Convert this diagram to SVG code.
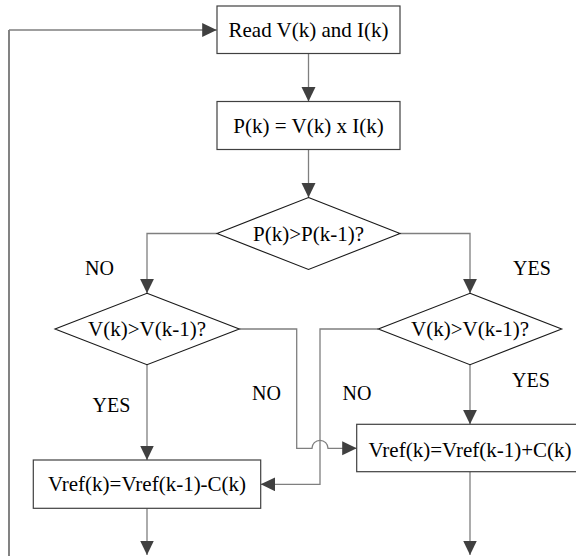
<svg xmlns="http://www.w3.org/2000/svg" width="576" height="556" viewBox="0 0 576 556">
<style>
.box{fill:#fff;stroke:#404040;stroke-width:1.2}
.dia{fill:#fff;stroke:#1a1a1a;stroke-width:1.1}
.t{font-size:21px;text-anchor:middle;fill:#000}
.lbl{font-size:20px;fill:#000}
.c{fill:none;stroke:#7f7f7f;stroke-width:1.3}
.cd{fill:none;stroke:#404040;stroke-width:1.3}
.ca{marker-end:url(#ah)}
</style>
<defs>
<marker id="ah" markerUnits="userSpaceOnUse" markerWidth="15" markerHeight="15" viewBox="0 0 15 15" refX="14.5" refY="7" orient="auto">
<path d="M0,0 L14.5,7 L0,14 z" fill="#404040"/>
</marker>
</defs>
<g id="connectors">
<path class="cd" d="M9,556 V30"/>
<path class="c ca" d="M9,30 H216.7"/>
<path class="c ca" d="M308.5,53.5 V101.5"/>
<path class="c ca" d="M308.5,149.5 V197.5"/>
<path class="c ca" d="M217,233.5 H147 V293.3"/>
<path class="c ca" d="M400,233.5 H470 V293.3"/>
<path class="c ca" d="M147,364.7 V460"/>
<path class="c ca" d="M470,364.7 V424.3"/>
<path class="c ca" d="M239.3,329 H296.7 V448.3 H312 A8 8 0 0 1 328 448.3 H356.7"/>
<path class="c ca" d="M378.3,329 H320 V484.3 H260.7"/>
<path class="c ca" d="M147,508.3 V555"/>
<path class="c ca" d="M470,471.7 V555"/>
</g>
<g id="read">
<rect class="box" x="217" y="6" width="183" height="47.5"/>
<text class="t" x="308.5" y="36.5" font-family="'Liberation Serif', serif">Read V(k) and I(k)</text>
</g>
<g id="power">
<rect class="box" x="217" y="101.5" width="183" height="48"/>
<text class="t" x="308.5" y="133" font-family="'Liberation Serif', serif">P(k) = V(k) x I(k)</text>
</g>
<g id="cmpP">
<polygon class="dia" points="308.5,197.5 400,233.5 308.5,269.5 217,233.5"/>
<text class="t" x="308.5" y="240.5" font-family="'Liberation Serif', serif">P(k)&gt;P(k-1)?</text>
</g>
<g id="cmpVleft">
<polygon class="dia" points="147,293.3 239.3,329 147,364.7 55,329"/>
<text class="t" x="147" y="336" font-family="'Liberation Serif', serif">V(k)&gt;V(k-1)?</text>
</g>
<g id="cmpVright">
<polygon class="dia" points="470,293.3 561.7,329 470,364.7 378.3,329"/>
<text class="t" x="470" y="336" font-family="'Liberation Serif', serif">V(k)&gt;V(k-1)?</text>
</g>
<g id="dec">
<rect class="box" x="33.3" y="460" width="227.4" height="48.3"/>
<text class="t" x="147" y="491" font-family="'Liberation Serif', serif">Vref(k)=Vref(k-1)-C(k)</text>
</g>
<g id="inc">
<rect class="box" x="356.7" y="424.3" width="226.7" height="47.4"/>
<text class="t" x="470" y="457" font-family="'Liberation Serif', serif">Vref(k)=Vref(k-1)+C(k)</text>
</g>
<g id="labels">
<text class="lbl" x="85" y="275" font-family="'Liberation Serif', serif">NO</text>
<text class="lbl" x="513" y="275" font-family="'Liberation Serif', serif">YES</text>
<text class="lbl" x="92.5" y="411.5" font-family="'Liberation Serif', serif">YES</text>
<text class="lbl" x="252" y="400" font-family="'Liberation Serif', serif">NO</text>
<text class="lbl" x="342.5" y="400" font-family="'Liberation Serif', serif">NO</text>
<text class="lbl" x="512" y="387" font-family="'Liberation Serif', serif">YES</text>
</g>
</svg>
